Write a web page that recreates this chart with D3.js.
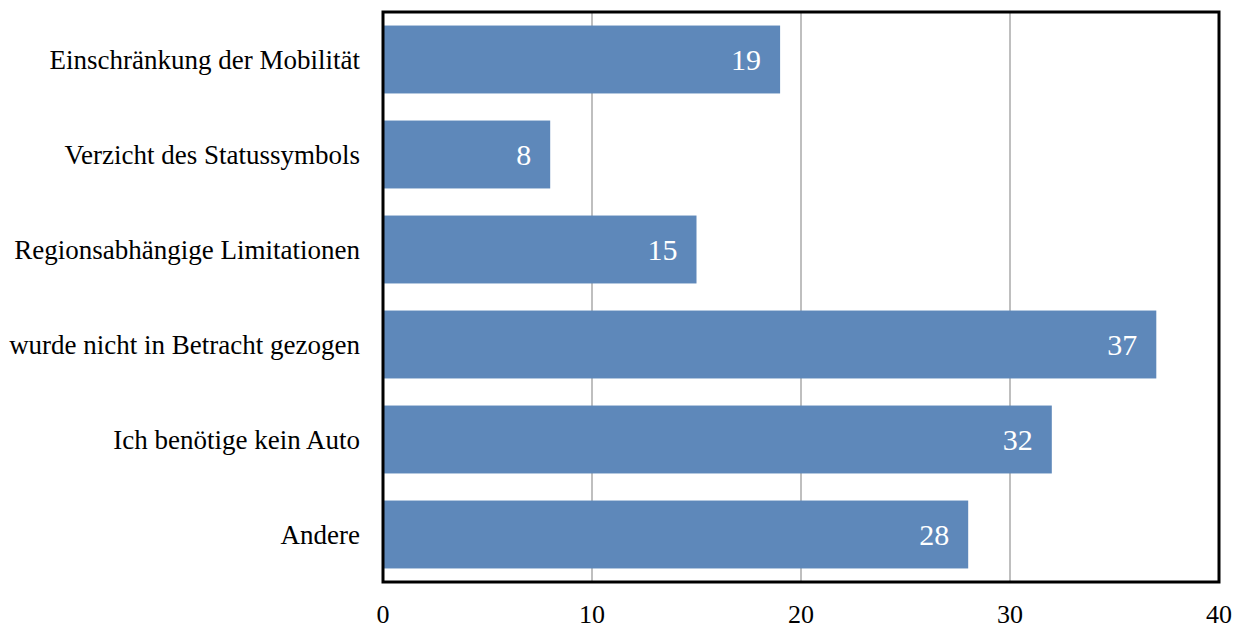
<!DOCTYPE html>
<html><head><meta charset="utf-8">
<script src="https://cdn.jsdelivr.net/npm/d3@7"></script>
<style>body{margin:0;background:#fff}svg{display:block}</style>
</head><body>
<script>
const categories = ["Einschränkung der Mobilität","Verzicht des Statussymbols","Regionsabhängige Limitationen","wurde nicht in Betracht gezogen","Ich benötige kein Auto","Andere"];
const values = [19, 8, 15, 37, 32, 28];
const ticks = [0, 10, 20, 30, 40];

const W = 1240, H = 628;
const m = {left: 383, right: 1219, top: 12, bottom: 582};
const svg = d3.select("body").append("svg").attr("width", W).attr("height", H)
  .style("font-family", "'Liberation Serif','Times New Roman',serif");

const x = d3.scaleLinear().domain([0, 40]).range([m.left, m.right]);
const y = d3.scaleBand().domain(categories).range([m.top, m.bottom]).paddingInner(0.285).paddingOuter(0.1425);

svg.append("g").selectAll("line").data(ticks.slice(1, -1)).join("line")
  .attr("x1", d => x(d)).attr("x2", d => x(d)).attr("y1", m.top).attr("y2", m.bottom)
  .attr("stroke", "#bfbfbf").attr("stroke-width", 2);

svg.append("g").selectAll("rect").data(values).join("rect")
  .attr("x", x(0)).attr("y", (d, i) => y(categories[i]))
  .attr("width", d => x(d) - x(0)).attr("height", y.bandwidth())
  .attr("fill", "#5e88ba");

svg.append("g").selectAll("text").data(values).join("text")
  .attr("x", d => x(d) - 19).attr("y", (d, i) => y(categories[i]) + y.bandwidth() / 2)
  .attr("dy", "0.35em").attr("text-anchor", "end").attr("fill", "#fff")
  .attr("font-size", 30).text(d => d);

svg.append("rect").attr("x", m.left).attr("y", m.top)
  .attr("width", m.right - m.left).attr("height", m.bottom - m.top)
  .attr("fill", "none").attr("stroke", "#000").attr("stroke-width", 3);

svg.append("g").selectAll("text").data(categories).join("text")
  .attr("x", 360).attr("y", d => y(d) + y.bandwidth() / 2)
  .attr("dy", "0.35em").attr("text-anchor", "end").attr("fill", "#000")
  .attr("font-size", 27).text(d => d);

svg.append("g").selectAll("text").data(ticks).join("text")
  .attr("x", d => x(d)).attr("y", 623).attr("text-anchor", "middle")
  .attr("fill", "#000").attr("font-size", 26).text(d => d);
</script>
</body></html>
